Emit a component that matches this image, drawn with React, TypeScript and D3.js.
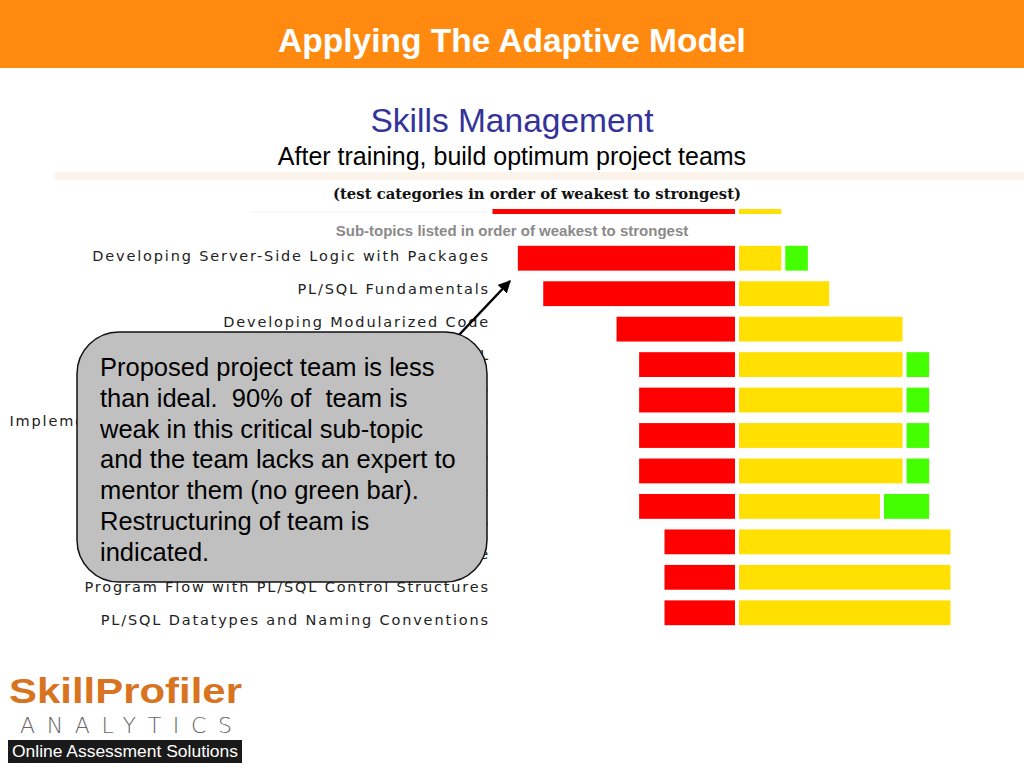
import { useRef, useEffect } from 'react';
import * as d3 from 'd3';

const W = 1024;
const H = 768;

// sub-topics, weakest to strongest (the last bar is cut off in the screenshot)
const topics = [
	'Developing Server-Side Logic with Packages',
	'PL/SQL Fundamentals',
	'Developing Modularized Code',
	'Interacting with the Oracle Server via SQL',
	'Using Explicit Cursors and Cursor Variables',
	'Implementing Advanced Features of PL/SQL Packages',
	'Handling Errors with PL/SQL Exceptions',
	'Working with Composite Data Types',
	'Creating and Managing Database Triggers',
	'Declaring Variables and Their Scope',
	'Program Flow with PL/SQL Control Structures',
	'PL/SQL Datatypes and Naming Conventions',
];
// percent of team per level, for the bars that are visible
const weak = [77, 68, 42, 34, 34, 34, 34, 34, 25, 25, 25];
const moderate = [15, 32, 58, 58, 58, 58, 58, 50, 75, 75, 75];
const strong = [8, 0, 0, 8, 8, 8, 8, 16, 0, 0, 0];

// cut-off row of the test-category chart above
const categoryWeak = [86];
const categoryModerate = [15];

const calloutLines = [
	'Proposed project team is less',
	'than ideal.  90% of  team is',
	'weak in this critical sub-topic',
	'and the team lacks an expert to',
	'mentor them (no green bar).',
	'Restructuring of team is',
	'indicated.',
];

const RED = '#ff0000';
const YELLOW = '#ffe000';
const GREEN = '#44ff00';
const CENTER = 737; // split between weak and moderate
const GAP = 2;
const SANS = 'Liberation Sans, Arial, sans-serif';

const App = () => {
	const ref = useRef<SVGSVGElement>(null);

	useEffect(() => {
		const svg = d3.select(ref.current);
		svg.selectAll('*').remove();

		// header
		svg.append('rect').attr('width', W).attr('height', 68).attr('fill', '#ff8a0f');
		svg.append('text')
			.attr('x', W / 2).attr('y', 52)
			.attr('text-anchor', 'middle')
			.attr('fill', '#fff')
			.attr('font-family', SANS)
			.attr('font-weight', 'bold')
			.attr('font-size', 33.5)
			.text('Applying The Adaptive Model');

		svg.append('text')
			.attr('x', W / 2).attr('y', 132)
			.attr('text-anchor', 'middle')
			.attr('fill', '#333399')
			.attr('font-family', SANS)
			.attr('font-size', 33.5)
			.text('Skills Management');
		svg.append('text')
			.attr('x', W / 2).attr('y', 165)
			.attr('text-anchor', 'middle')
			.attr('fill', '#000')
			.attr('font-family', SANS)
			.attr('font-size', 25)
			.text('After training, build optimum project teams');

		// pale band of the screenshot
		svg.append('rect').attr('x', 55).attr('y', 172).attr('width', W - 55).attr('height', 8).attr('fill', '#fcf3ea');

		svg.append('text')
			.attr('x', 333).attr('y', 199)
			.attr('textLength', 408)
			.attr('lengthAdjust', 'spacingAndGlyphs')
			.attr('fill', '#111')
			.attr('font-family', 'DejaVu Serif, serif')
			.attr('font-weight', 'bold')
			.attr('font-size', 15)
			.text('(test categories in order of weakest to strongest)');

		const x = d3.scaleLinear().domain([0, 100]).range([0, 282]);

		// cut-off category row
		svg.append('line').attr('x1', 250).attr('x2', 490).attr('y1', 212).attr('y2', 212).attr('stroke', '#f2f2f2').attr('stroke-width', 1);
		svg.append('g').selectAll('rect').data(categoryWeak).enter().append('rect')
			.attr('x', d => CENTER - GAP - x(d)).attr('y', 209).attr('width', d => x(d)).attr('height', 5).attr('fill', RED);
		svg.append('g').selectAll('rect').data(categoryModerate).enter().append('rect')
			.attr('x', CENTER + GAP).attr('y', 209).attr('width', d => x(d)).attr('height', 5).attr('fill', YELLOW);

		svg.append('text')
			.attr('x', W / 2).attr('y', 236)
			.attr('text-anchor', 'middle')
			.attr('fill', '#8a8a8a')
			.attr('font-family', SANS)
			.attr('font-weight', 'bold')
			.attr('font-size', 15)
			.text('Sub-topics listed in order of weakest to strongest');

		// labels and bars come from two pasted images with different spacing
		const yLabel = d3.scalePoint<number>()
			.domain(d3.range(topics.length))
			.range([256, 620]);
		const y = d3.scaleBand<number>()
			.domain(d3.range(weak.length))
			.range([240.5, 630.5])
			.paddingInner(0.3)
			.paddingOuter(0.15);
		const bh = y.bandwidth();

		svg.append('g').selectAll('text').data(topics).enter().append('text')
			.attr('x', 490).attr('y', (_, i) => (yLabel(i) as number) + 5)
			.attr('text-anchor', 'end')
			.attr('fill', '#222')
			.attr('font-family', 'DejaVu Sans, Verdana, sans-serif')
			.attr('font-size', 14.5)
			.attr('letter-spacing', 1.85)
			.text(d => d);

		const bars = svg.append('g');
		bars.selectAll('rect.weak').data(weak).enter().append('rect')
			.attr('class', 'weak')
			.attr('x', d => CENTER - GAP - x(d))
			.attr('y', (_, i) => y(i) as number)
			.attr('width', d => x(d))
			.attr('height', bh)
			.attr('fill', RED);
		bars.selectAll('rect.moderate').data(moderate).enter().append('rect')
			.attr('class', 'moderate')
			.attr('x', CENTER + GAP)
			.attr('y', (_, i) => y(i) as number)
			.attr('width', d => x(d))
			.attr('height', bh)
			.attr('fill', YELLOW);
		bars.selectAll('rect.strong')
			.data(strong.map((v, i) => ({ v, i })).filter(d => d.v > 0))
			.enter().append('rect')
			.attr('class', 'strong')
			.attr('x', d => CENTER + GAP + x(moderate[d.i]) + 4)
			.attr('y', d => y(d.i) as number)
			.attr('width', d => x(d.v))
			.attr('height', bh)
			.attr('fill', GREEN);

		// callout
		svg.append('defs').append('marker')
			.attr('id', 'arrow')
			.attr('viewBox', '0 0 10 10')
			.attr('refX', 9).attr('refY', 5)
			.attr('markerWidth', 5).attr('markerHeight', 5)
			.attr('orient', 'auto')
			.append('path').attr('d', 'M0,0 L10,5 L0,10 z').attr('fill', '#000');
		svg.append('line')
			.attr('x1', 458).attr('y1', 336)
			.attr('x2', 510).attr('y2', 281)
			.attr('stroke', '#000').attr('stroke-width', 2.5)
			.attr('marker-end', 'url(#arrow)');

		svg.append('rect')
			.attr('x', 77).attr('y', 332)
			.attr('width', 410).attr('height', 250)
			.attr('rx', 42).attr('ry', 42)
			.attr('fill', '#c0c0c0')
			.attr('stroke', '#111').attr('stroke-width', 1.5);
		svg.append('text')
			.attr('font-family', SANS)
			.attr('font-size', 25.5)
			.attr('fill', '#000')
			.style('white-space', 'pre')
			.selectAll('tspan').data(calloutLines).enter().append('tspan')
			.attr('x', 100)
			.attr('y', (_, i) => 376 + i * 30.8)
			.text(d => d);

		// logo
		svg.append('text')
			.attr('x', 9).attr('y', 703)
			.attr('fill', '#d8731f')
			.attr('font-family', SANS)
			.attr('font-weight', 'bold')
			.attr('font-size', 35)
			.attr('textLength', 233)
			.attr('lengthAdjust', 'spacingAndGlyphs')
			.text('SkillProfiler');
		svg.append('text')
			.attr('x', 20).attr('y', 733)
			.attr('fill', '#666')
			.attr('font-family', 'DejaVu Sans, sans-serif')
			.attr('font-weight', 300)
			.attr('font-size', 22)
			.attr('textLength', 212)
			.attr('lengthAdjust', 'spacing')
			.text('ANALYTICS');
		svg.append('rect').attr('x', 8).attr('y', 740).attr('width', 234).attr('height', 23).attr('fill', '#1a1a1a');
		svg.append('text')
			.attr('x', 12).attr('y', 757)
			.attr('fill', '#fff')
			.attr('font-family', SANS)
			.attr('font-size', 16)
			.attr('textLength', 226)
			.attr('lengthAdjust', 'spacingAndGlyphs')
			.text('Online Assessment Solutions');
	}, []);

	return (
		<svg
			ref={ref}
			width={W}
			height={H}
			style={{ position: 'absolute', left: 0, top: 0, background: '#fff' }}
		/>
	);
};

export default App;
